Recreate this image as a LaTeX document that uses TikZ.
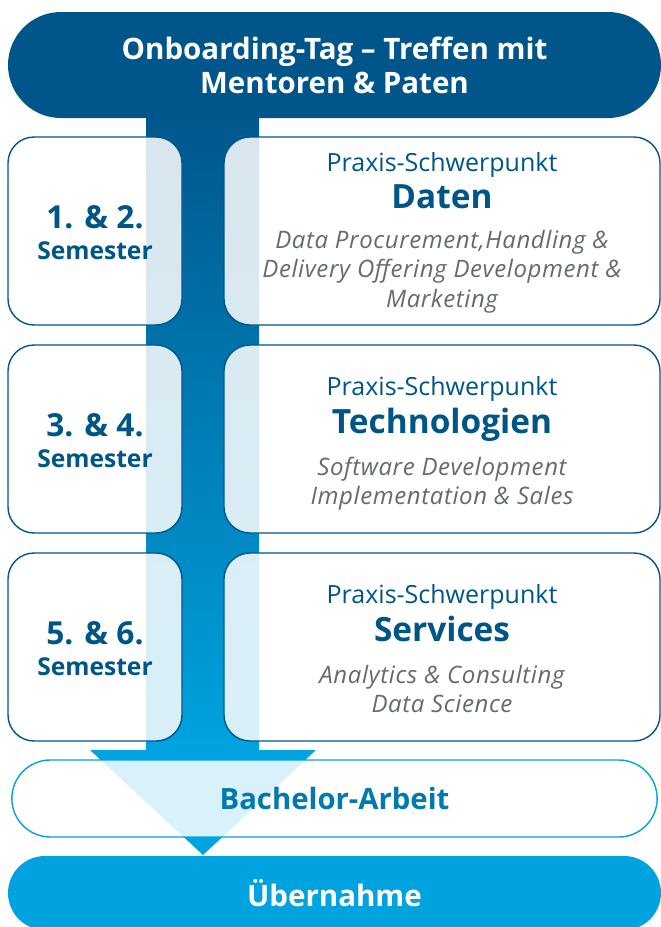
\documentclass[tikz,border=0pt]{standalone}
\usepackage{fontspec}
\setmainfont{Open Sans}
\usetikzlibrary{shapes.misc, positioning, calc}
\definecolor{ubdark}{HTML}{00558A}
\definecolor{ublight}{HTML}{00A3E0}
\definecolor{ubtext}{HTML}{005587}
\definecolor{ubmid}{HTML}{0079AE}
\definecolor{ubgray}{HTML}{646A70}
\tikzset{
  pill/.style={
    rounded rectangle, fill=#1, draw=none,
    minimum width=653pt, inner sep=0pt, outer sep=0pt, align=center,
    text=white, font=\bfseries\fontsize{29.5}{34}\selectfont
  },
  semblk/.style={
    rectangle, draw=ubdark, line width=1.4pt,
    fill=white, fill opacity=0.85,
    rounded corners=26pt, outer sep=0pt,
    minimum width=174pt, minimum height=188pt
  },
  schwblk/.style={
    rectangle, draw=ubdark, line width=1.4pt,
    fill=white, fill opacity=0.85,
    rounded corners=26pt, outer sep=0pt,
    minimum width=436pt, minimum height=188pt
  },
  bablk/.style={
    rounded rectangle, draw=ublight, line width=1.4pt,
    fill=white, fill opacity=0.85, text opacity=1,
    minimum width=652pt, minimum height=77pt, outer sep=0pt,
    text=ubmid, font=\bfseries\fontsize{29.3}{34}\selectfont
  },
  semnum/.style={anchor=base, inner sep=0pt, text=ubtext,
    font=\bfseries\fontsize{31.7}{36}\selectfont},
  semlbl/.style={anchor=base, inner sep=0pt, text=ubtext,
    font=\bfseries\fontsize{24.6}{28}\selectfont},
  praxis/.style={anchor=base, inner sep=0pt, text=ubtext,
    font=\fontsize{25}{28}\selectfont},
  fach/.style={anchor=base, inner sep=0pt, text=ubtext,
    font=\bfseries\fontsize{33.4}{38}\selectfont},
  desc/.style={anchor=north, inner sep=0pt, text=ubgray, align=center,
    font=\itshape\fontsize{24}{29.5}\selectfont\addfontfeature{LetterSpace=2.5}}
}
\begin{document}
\begin{tikzpicture}[x=1pt, y=1pt]
  \useasboundingbox (0,0) rectangle (661,-927);
  \clip (0,0) rectangle (661,-927);

  % arrow behind everything
  \coordinate (shafttl) at (146,-100);
  \coordinate (shaftbr) at (259,-750);
  \coordinate (tip)     at (203,-855);
  \shade[top color=ubdark, bottom color=ublight] (shafttl) rectangle (shaftbr);
  \fill[ublight] ($(tip)+(-113,105)$) -- ($(tip)+(113,105)$) -- (tip) -- cycle;

  \node[pill=ubdark, minimum height=106pt] (onb) at (334.5,-65) {Onboarding-Tag – Treffen mit\\Mentoren \& Paten};

  \node[semblk] (s1) at (95,-231) {};
  \node[semblk, below=20pt of s1] (s2) {};
  \node[semblk, below=20pt of s2] (s3) {};

  \node[schwblk, right=42pt of s1] (d1) {};
  \node[schwblk, right=42pt of s2] (d2) {};
  \node[schwblk, right=42pt of s3] (d3) {};

  \node[bablk, below=19pt of s3.south -| onb] (ba) {Bachelor-Arbeit};
  \node[pill=ublight, minimum height=74pt, below=19pt of ba] (ueb) {Übernahme};

  % semester labels
  \node[semnum] (n1) at ($(s1.center)+(0,3)$)   {1. \& 2.};
  \node[semlbl] (l1) at ($(s1.center)+(0,-28)$) {Semester};
  \node[semnum] (n2) at ($(s2.center)+(0,3)$)   {3. \& 4.};
  \node[semlbl] (l2) at ($(s2.center)+(0,-28)$) {Semester};
  \node[semnum] (n3) at ($(s3.center)+(0,3)$)   {5. \& 6.};
  \node[semlbl] (l3) at ($(s3.center)+(0,-28)$) {Semester};

  % Praxis-Schwerpunkte
  \node[praxis] (p1) at ($(d1.center)+(0,60)$)    {Praxis-Schwerpunkt};
  \node[fach]   (f1) at ($(d1.center)+(0,23)$)    {Daten};
  \node[desc]   (t1) at ($(d1.center)+(0,1.2)$)   {Data Procurement,Handling \&\\Delivery Offering Development \&\\Marketing};

  \node[praxis] (p2) at ($(d2.center)+(0,44)$)    {Praxis-Schwerpunkt};
  \node[fach]   (f2) at ($(d2.center)+(0,6)$)     {Technologien};
  \node[desc]   (t2) at ($(d2.center)+(0,-17.8)$) {Software Development\\Implementation \& Sales};

  \node[praxis] (p3) at ($(d3.center)+(0,44)$)    {Praxis-Schwerpunkt};
  \node[fach]   (f3) at ($(d3.center)+(0,6)$)     {Services};
  \node[desc]   (t3) at ($(d3.center)+(0,-17.8)$) {Analytics \& Consulting\\Data Science};

\end{tikzpicture}
\end{document}
